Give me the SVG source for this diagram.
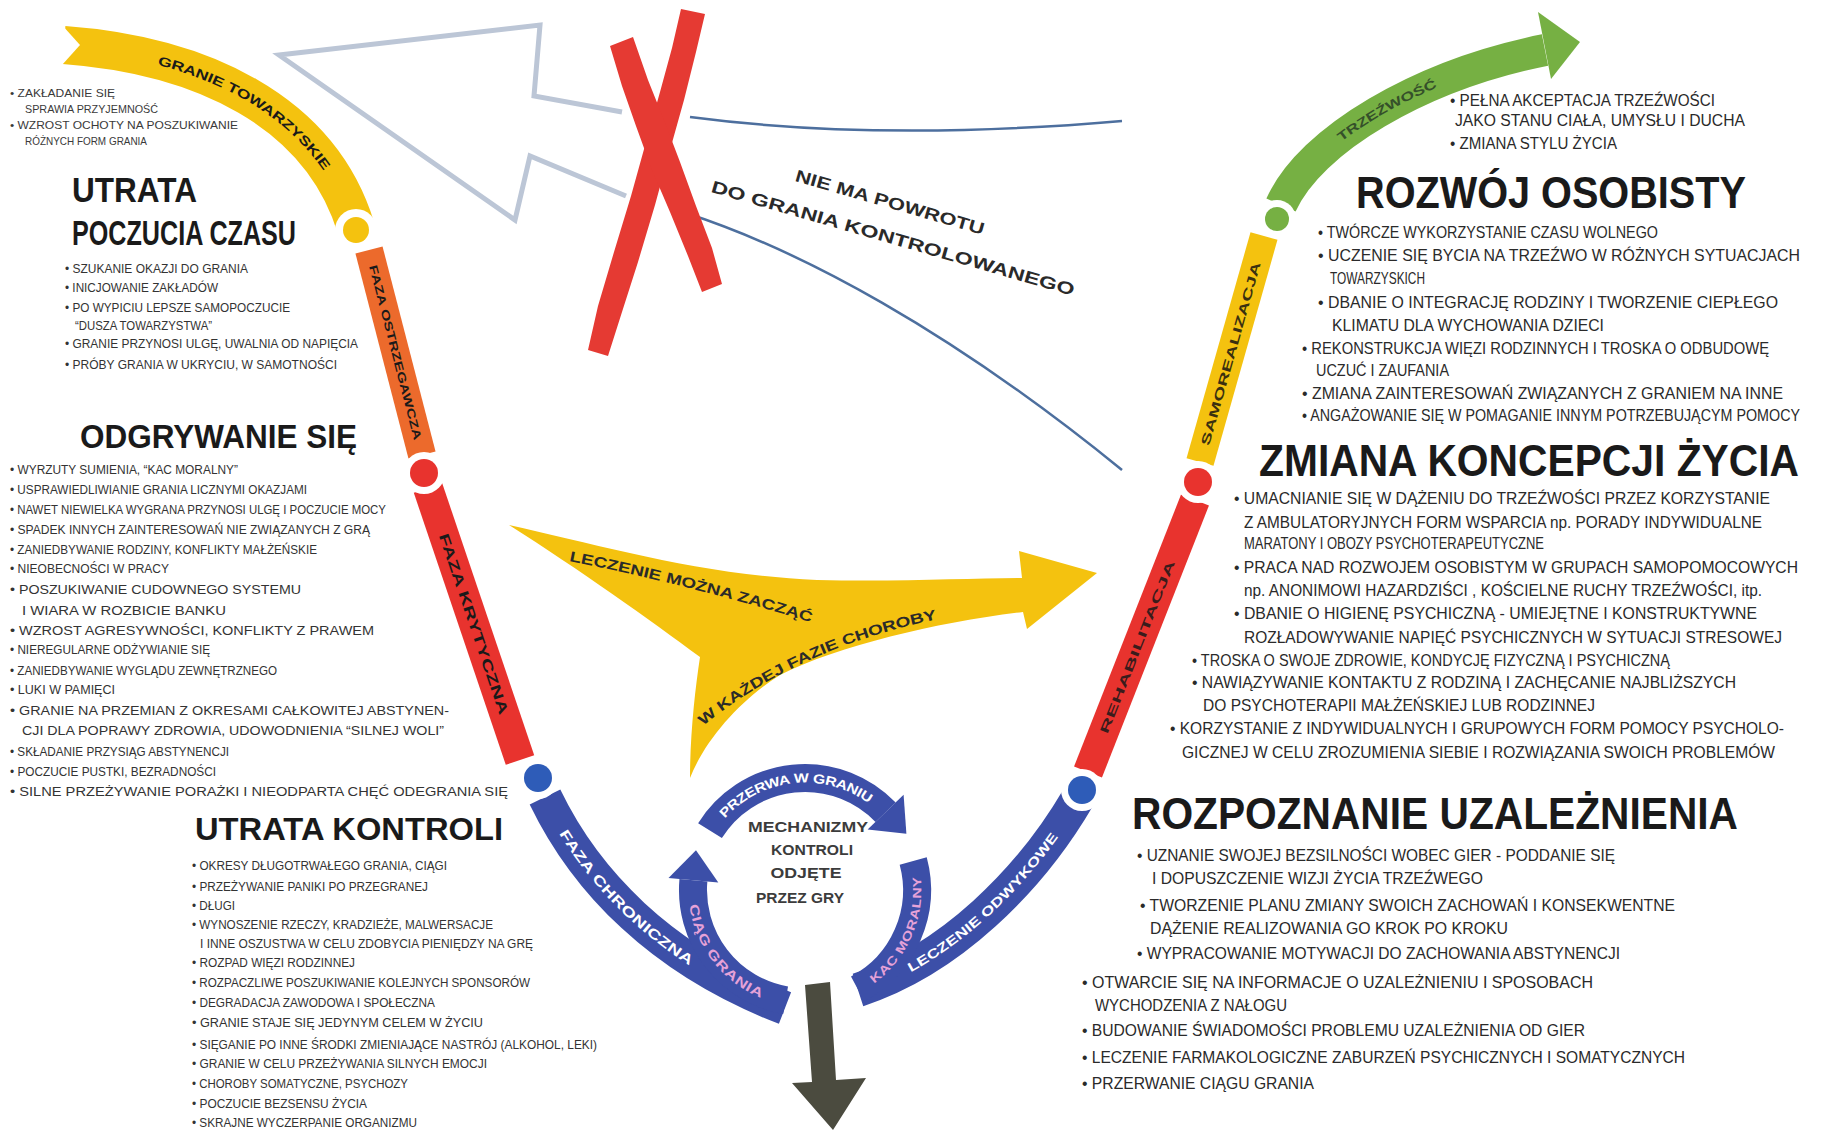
<svg xmlns="http://www.w3.org/2000/svg" width="1831" height="1132" viewBox="0 0 1831 1132">
<defs>
<style>
text{font-family:"Liberation Sans",Arial,sans-serif}
.a{font-size:10.5px;fill:#3a3a3a}
.b{font-size:13px;fill:#333}
.c{font-size:12px;fill:#333}
.e{font-size:16px;fill:#2a2a2a}
.r{font-size:17px;fill:#2a2a2a}
.q{font-size:15px;fill:#2a2a2a}
.h{font-weight:bold;fill:#1a1a1a}
.lab{font-weight:bold}
.band{fill:none;stroke-linecap:butt}
.ring{fill:none;stroke:#3c4fa8;stroke-width:28}
.wc{fill:#fff}
</style>
<path id="p-yel" d="M 64,45 C 200,55 320,110 356,228"/>
<path id="p-ora" d="M 369,250 L 422,455"/>
<path id="p-redL" d="M 428,488 L 520,760"/>
<path id="p-blueL" d="M 545,797 C 585,880 660,960 785,1008"/>
<path id="p-blueR" d="M 858,990 C 950,960 1030,880 1078,798"/>
<path id="p-redR" d="M 1088,772 L 1195,500"/>
<path id="p-yelR" d="M 1200,462 L 1264,236"/>
<path id="p-grn" d="M 1281,205 C 1310,140 1420,75 1545,50"/>
<path id="t-przerwa" d="M 710,830.6 A 112 112 0 0 1 885.6,812.2"/>
<path id="t-ciag" d="M 693.4,880.2 A 112 112 0 0 0 785.6,1000.3"/>
<path id="t-kac" d="M 857.6,988.9 A 112 112 0 0 0 913.2,861"/>
<path id="t-lecz1" d="M 570,556 Q 700,582 820,620"/>
<path id="t-lecz2" d="M 700,722 Q 800,640 948,612"/>
</defs>
<rect width="1831" height="1132" fill="#fff"/>

<g id="connectors">
  <path id="no-return-arrow" d="M 622,112 L 534,96 L 540,25 L 279,55 L 515,220 L 530,156 L 626,196" fill="none" stroke="#bcc6d6" stroke-width="5" stroke-linejoin="miter"/>
  <path d="M 690,117 Q 880,142 1122,121" fill="none" stroke="#4d6f9e" stroke-width="2.5"/>
  <path d="M 686,213 C 800,250 950,330 1122,470" fill="none" stroke="#4d6f9e" stroke-width="2.5"/>
  <g id="red-x" fill="#e53a33">
    <polygon points="681,9 705,14 696,52 684,100 670,150 655,205 638,262 622,312 608,356 588,350 598,306 614,252 631,196 646,142 660,92 672,48"/>
    <polygon points="610,46 633,37 648,80 664,120 680,162 696,206 712,248 722,284 702,292 688,256 670,212 652,170 636,126 622,86"/>
  </g>
  <polygon id="down-arrow" points="805,985 830,982 836,1080 866,1078 833,1130 792,1083 812,1082" fill="#4b4b3f"/>
</g>

<g id="treatment-arrow">
  <path d="M 509,525 C 600,545 700,575 817,580 C 900,582 970,578 1022,578 L 1019,551 L 1097,573 L 1027,629 L 1023,612 C 940,622 840,645 780,675 C 740,700 705,740 690,778 C 690,735 695,690 700,657 C 650,620 580,570 509,525 Z" fill="#f4c20f"/>
  <text class="lab" font-size="14.5" fill="#2a2a2a" dy="5"><textPath href="#t-lecz1" textLength="250" lengthAdjust="spacingAndGlyphs">LECZENIE MOŻNA ZACZĄĆ</textPath></text>
  <text class="lab" font-size="14.5" fill="#2a2a2a" dy="5"><textPath href="#t-lecz2" textLength="262" lengthAdjust="spacingAndGlyphs">W KAŻDEJ FAZIE CHOROBY</textPath></text>
</g>

<g id="no-return-label" class="lab" font-size="17" fill="#2a2a2a" text-anchor="middle">
  <text transform="translate(890,202) rotate(16)" y="6" textLength="196" lengthAdjust="spacingAndGlyphs">NIE MA POWROTU</text>
  <text transform="translate(893,238) rotate(16)" y="6" textLength="377" lengthAdjust="spacingAndGlyphs">DO GRANIA KONTROLOWANEGO</text>
</g>

<g id="left-arm">
  <use href="#p-yel" class="band" stroke="#f4c20f" stroke-width="38"/>
  <polygon points="62,25 62,65 80,45" fill="#fff"/>
  <use href="#p-ora" class="band" stroke="#ec6a2c" stroke-width="28"/>
  <use href="#p-redL" class="band" stroke="#e8332e" stroke-width="30"/>
  <use href="#p-blueL" class="band" stroke="#3c4fa8" stroke-width="34"/>
</g>

<g id="right-arm">
  <use href="#p-blueR" class="band" stroke="#3c4fa8" stroke-width="34"/>
  <use href="#p-redR" class="band" stroke="#e8332e" stroke-width="30"/>
  <use href="#p-yelR" class="band" stroke="#f4c20f" stroke-width="28"/>
  <use href="#p-grn" class="band" stroke="#76b043" stroke-width="32"/>
  <polygon points="1538,12 1580,42 1551,79" fill="#76b043"/>
</g>

<g id="dots">
  <circle class="wc" cx="356" cy="230" r="21"/><circle cx="356" cy="230" r="13" fill="#f4c20f"/>
  <circle class="wc" cx="424" cy="473" r="21"/><circle cx="424" cy="473" r="14" fill="#e8332e"/>
  <circle class="wc" cx="538" cy="778" r="21"/><circle cx="538" cy="778" r="14" fill="#2e5cb8"/>
  <circle class="wc" cx="1082" cy="790" r="21"/><circle cx="1082" cy="790" r="14" fill="#2e5cb8"/>
  <circle class="wc" cx="1198" cy="482" r="21"/><circle cx="1198" cy="482" r="14" fill="#e8332e"/>
  <circle class="wc" cx="1277" cy="219" r="19"/><circle cx="1277" cy="219" r="12" fill="#76b043"/>
</g>

<g id="cycle">
  <path class="ring" d="M 785.6,1000.3 A 112 112 0 0 1 693.4,880.2"/>
  <polygon points="668.5,878 718.3,882.4 696,850.3" fill="#3c4fa8"/>
  <path class="ring" d="M 710,830.6 A 112 112 0 0 1 885.6,812.2"/>
  <polygon points="903.6,794.8 867.6,829.6 906.4,833.8" fill="#3c4fa8"/>
  <path class="ring" d="M 913.2,861 A 112 112 0 0 1 857.6,988.9"/>
  <text class="lab" font-size="13" fill="#fff" dy="4.6" text-anchor="middle"><textPath href="#t-przerwa" startOffset="50%" textLength="165" lengthAdjust="spacingAndGlyphs">PRZERWA W GRANIU</textPath></text>
  <text class="lab" font-size="13" fill="#e6a2d8" dy="4.6" text-anchor="middle"><textPath href="#t-ciag" startOffset="50%" textLength="118" lengthAdjust="spacingAndGlyphs">CIĄG GRANIA</textPath></text>
  <text class="lab" font-size="12" fill="#e6a2d8" dy="4.3" text-anchor="middle"><textPath href="#t-kac" startOffset="50%" textLength="118" lengthAdjust="spacingAndGlyphs">KAC MORALNY</textPath></text>
  <g class="lab" font-size="14" fill="#3c3c3c" text-anchor="middle">
    <text x="808" y="832" textLength="120" lengthAdjust="spacingAndGlyphs">MECHANIZMY</text>
    <text x="812" y="855" textLength="82" lengthAdjust="spacingAndGlyphs">KONTROLI</text>
    <text x="806" y="878" textLength="71" lengthAdjust="spacingAndGlyphs">ODJĘTE</text>
    <text x="800" y="903" textLength="88" lengthAdjust="spacingAndGlyphs">PRZEZ GRY</text>
  </g>
</g>

<g id="band-labels" class="lab" text-anchor="middle">
  <text font-size="13" fill="#1a1a1a" dy="4.6"><textPath href="#p-yel" startOffset="54%" textLength="205" lengthAdjust="spacingAndGlyphs">GRANIE TOWARZYSKIE</textPath></text>
  <text font-size="11.5" fill="#1a1a1a" dy="4"><textPath href="#p-ora" startOffset="50%" textLength="180" lengthAdjust="spacingAndGlyphs">FAZA OSTRZEGAWCZA</textPath></text>
  <text font-size="14" fill="#1a1a1a" dy="5"><textPath href="#p-redL" startOffset="50%" textLength="190" lengthAdjust="spacingAndGlyphs">FAZA KRYTYCZNA</textPath></text>
  <text font-size="14" fill="#fff" dy="5"><textPath href="#p-blueL" startOffset="40%" textLength="185" lengthAdjust="spacingAndGlyphs">FAZA CHRONICZNA</textPath></text>
  <text font-size="13" fill="#fff" dy="4.6"><textPath href="#p-blueR" startOffset="52%" textLength="200" lengthAdjust="spacingAndGlyphs">LECZENIE ODWYKOWE</textPath></text>
  <text font-size="12" fill="#3a1c1c" dy="4.3"><textPath href="#p-redR" startOffset="46%" textLength="185" lengthAdjust="spacingAndGlyphs">REHABILITACJA</textPath></text>
  <text font-size="12.5" fill="#3a3010" dy="4.4"><textPath href="#p-yelR" startOffset="48%" textLength="190" lengthAdjust="spacingAndGlyphs">SAMOREALIZACJA</textPath></text>
  <text font-size="12.5" fill="#35502a" dy="4.4"><textPath href="#p-grn" startOffset="46%" textLength="112" lengthAdjust="spacingAndGlyphs">TRZEŹWOŚĆ</textPath></text>
</g>

<g id="social-gambling-notes" class="a">
  <text x="10" y="97" textLength="105" lengthAdjust="spacingAndGlyphs">• ZAKŁADANIE SIĘ</text>
  <text x="25" y="113" textLength="133" lengthAdjust="spacingAndGlyphs">SPRAWIA PRZYJEMNOŚĆ</text>
  <text x="10" y="129" textLength="228" lengthAdjust="spacingAndGlyphs">• WZROST OCHOTY NA POSZUKIWANIE</text>
  <text x="25" y="145" textLength="122" lengthAdjust="spacingAndGlyphs">RÓŻNYCH FORM GRANIA</text>
</g>

<g id="utrata-poczucia-czasu">
  <text class="h" font-size="35" x="72" y="202" textLength="125" lengthAdjust="spacingAndGlyphs">UTRATA</text>
  <text class="h" font-size="35" x="72" y="245" textLength="224" lengthAdjust="spacingAndGlyphs">POCZUCIA CZASU</text>
  <g class="b">
    <text x="65" y="273" textLength="183" lengthAdjust="spacingAndGlyphs">• SZUKANIE OKAZJI DO GRANIA</text>
    <text x="65" y="292" textLength="153" lengthAdjust="spacingAndGlyphs">• INICJOWANIE ZAKŁADÓW</text>
    <text x="65" y="312" textLength="225" lengthAdjust="spacingAndGlyphs">• PO WYPICIU LEPSZE SAMOPOCZUCIE</text>
    <text x="75" y="330" textLength="137" lengthAdjust="spacingAndGlyphs">“DUSZA TOWARZYSTWA”</text>
    <text x="65" y="348" textLength="293" lengthAdjust="spacingAndGlyphs">• GRANIE PRZYNOSI ULGĘ, UWALNIA OD NAPIĘCIA</text>
    <text x="65" y="369" textLength="272" lengthAdjust="spacingAndGlyphs">• PRÓBY GRANIA W UKRYCIU, W SAMOTNOŚCI</text>
  </g>
</g>

<g id="odgrywanie-sie">
  <text class="h" font-size="33" x="80" y="448" textLength="277" lengthAdjust="spacingAndGlyphs">ODGRYWANIE SIĘ</text>
  <g class="c">
    <text x="10" y="474" textLength="228" lengthAdjust="spacingAndGlyphs">• WYRZUTY SUMIENIA, “KAC MORALNY”</text>
    <text x="10" y="494" textLength="297" lengthAdjust="spacingAndGlyphs">• USPRAWIEDLIWIANIE GRANIA LICZNYMI OKAZJAMI</text>
    <text x="10" y="514" textLength="376" lengthAdjust="spacingAndGlyphs">• NAWET NIEWIELKA WYGRANA PRZYNOSI ULGĘ I POCZUCIE MOCY</text>
    <text x="10" y="534" textLength="360" lengthAdjust="spacingAndGlyphs">• SPADEK INNYCH ZAINTERESOWAŃ NIE ZWIĄZANYCH Z GRĄ</text>
    <text x="10" y="554" textLength="307" lengthAdjust="spacingAndGlyphs">• ZANIEDBYWANIE RODZINY, KONFLIKTY MAŁŻEŃSKIE</text>
    <text x="10" y="573" textLength="159" lengthAdjust="spacingAndGlyphs">• NIEOBECNOŚCI W PRACY</text>
    <text x="10" y="594" textLength="291" lengthAdjust="spacingAndGlyphs">• POSZUKIWANIE CUDOWNEGO SYSTEMU</text>
    <text x="22" y="615" textLength="204" lengthAdjust="spacingAndGlyphs">I WIARA W ROZBICIE BANKU</text>
    <text x="10" y="635" textLength="364" lengthAdjust="spacingAndGlyphs">• WZROST AGRESYWNOŚCI, KONFLIKTY Z PRAWEM</text>
    <text x="10" y="654" textLength="200" lengthAdjust="spacingAndGlyphs">• NIEREGULARNE ODŻYWIANIE SIĘ</text>
    <text x="10" y="675" textLength="267" lengthAdjust="spacingAndGlyphs">• ZANIEDBYWANIE WYGLĄDU ZEWNĘTRZNEGO</text>
    <text x="10" y="694" textLength="105" lengthAdjust="spacingAndGlyphs">• LUKI W PAMIĘCI</text>
    <text x="10" y="715" textLength="439" lengthAdjust="spacingAndGlyphs">• GRANIE NA PRZEMIAN Z OKRESAMI CAŁKOWITEJ ABSTYNEN-</text>
    <text x="22" y="735" textLength="422" lengthAdjust="spacingAndGlyphs">CJI DLA POPRAWY ZDROWIA, UDOWODNIENIA “SILNEJ WOLI”</text>
    <text x="10" y="756" textLength="219" lengthAdjust="spacingAndGlyphs">• SKŁADANIE PRZYSIĄG ABSTYNENCJI</text>
    <text x="10" y="776" textLength="206" lengthAdjust="spacingAndGlyphs">• POCZUCIE PUSTKI, BEZRADNOŚCI</text>
    <text x="10" y="796" textLength="498" lengthAdjust="spacingAndGlyphs">• SILNE PRZEŻYWANIE PORAŻKI I NIEODPARTA CHĘĆ ODEGRANIA SIĘ</text>
  </g>
</g>

<g id="utrata-kontroli">
  <text class="h" font-size="32" x="195" y="840" textLength="308" lengthAdjust="spacingAndGlyphs">UTRATA KONTROLI</text>
  <g class="c">
    <text x="192" y="870" textLength="255" lengthAdjust="spacingAndGlyphs">• OKRESY DŁUGOTRWAŁEGO GRANIA, CIĄGI</text>
    <text x="192" y="891" textLength="236" lengthAdjust="spacingAndGlyphs">• PRZEŻYWANIE PANIKI PO PRZEGRANEJ</text>
    <text x="192" y="910" textLength="43" lengthAdjust="spacingAndGlyphs">• DŁUGI</text>
    <text x="192" y="929" textLength="301" lengthAdjust="spacingAndGlyphs">• WYNOSZENIE RZECZY, KRADZIEŻE, MALWERSACJE</text>
    <text x="200" y="948" textLength="333" lengthAdjust="spacingAndGlyphs">I INNE OSZUSTWA W CELU ZDOBYCIA PIENIĘDZY NA GRĘ</text>
    <text x="192" y="967" textLength="163" lengthAdjust="spacingAndGlyphs">• ROZPAD WIĘZI RODZINNEJ</text>
    <text x="192" y="987" textLength="338" lengthAdjust="spacingAndGlyphs">• ROZPACZLIWE POSZUKIWANIE KOLEJNYCH SPONSORÓW</text>
    <text x="192" y="1007" textLength="243" lengthAdjust="spacingAndGlyphs">• DEGRADACJA ZAWODOWA I SPOŁECZNA</text>
    <text x="192" y="1027" textLength="291" lengthAdjust="spacingAndGlyphs">• GRANIE STAJE SIĘ JEDYNYM CELEM W ŻYCIU</text>
    <text x="192" y="1049" textLength="405" lengthAdjust="spacingAndGlyphs">• SIĘGANIE PO INNE ŚRODKI ZMIENIAJĄCE NASTRÓJ (ALKOHOL, LEKI)</text>
    <text x="192" y="1068" textLength="295" lengthAdjust="spacingAndGlyphs">• GRANIE W CELU PRZEŻYWANIA SILNYCH EMOCJI</text>
    <text x="192" y="1088" textLength="216" lengthAdjust="spacingAndGlyphs">• CHOROBY SOMATYCZNE, PSYCHOZY</text>
    <text x="192" y="1108" textLength="175" lengthAdjust="spacingAndGlyphs">• POCZUCIE BEZSENSU ŻYCIA</text>
    <text x="192" y="1127" textLength="225" lengthAdjust="spacingAndGlyphs">• SKRAJNE WYCZERPANIE ORGANIZMU</text>
  </g>
</g>

<g id="trzezwosc-notes" class="e">
  <text x="1450" y="106" textLength="265" lengthAdjust="spacingAndGlyphs">• PEŁNA  AKCEPTACJA TRZEŹWOŚCI</text>
  <text x="1455" y="126" textLength="290" lengthAdjust="spacingAndGlyphs">JAKO STANU CIAŁA, UMYSŁU I DUCHA</text>
  <text x="1450" y="149" textLength="167" lengthAdjust="spacingAndGlyphs">• ZMIANA STYLU ŻYCIA</text>
</g>

<g id="rozwoj-osobisty">
  <text class="h" font-size="36" transform="translate(1356,208) scale(1,1.22)" textLength="390" lengthAdjust="spacingAndGlyphs">ROZWÓJ OSOBISTY</text>
  <g class="q">
    <text transform="translate(1318,238) scale(1,1.13)" textLength="340" lengthAdjust="spacingAndGlyphs">• TWÓRCZE WYKORZYSTANIE CZASU WOLNEGO</text>
    <text transform="translate(1318,261) scale(1,1.13)" textLength="482" lengthAdjust="spacingAndGlyphs">• UCZENIE SIĘ BYCIA NA TRZEŹWO W RÓŻNYCH SYTUACJACH</text>
    <text transform="translate(1330,284) scale(1,1.13)" textLength="95" lengthAdjust="spacingAndGlyphs">TOWARZYSKICH</text>
    <text transform="translate(1318,308) scale(1,1.13)" textLength="460" lengthAdjust="spacingAndGlyphs">• DBANIE O INTEGRACJĘ RODZINY I TWORZENIE CIEPŁEGO</text>
    <text transform="translate(1332,331) scale(1,1.13)" textLength="272" lengthAdjust="spacingAndGlyphs">KLIMATU DLA WYCHOWANIA DZIECI</text>
    <text transform="translate(1302,354) scale(1,1.13)" textLength="467" lengthAdjust="spacingAndGlyphs">• REKONSTRUKCJA WIĘZI RODZINNYCH I TROSKA O ODBUDOWĘ</text>
    <text transform="translate(1316,376) scale(1,1.13)" textLength="133" lengthAdjust="spacingAndGlyphs">UCZUĆ I ZAUFANIA</text>
    <text transform="translate(1302,399) scale(1,1.13)" textLength="481" lengthAdjust="spacingAndGlyphs">• ZMIANA ZAINTERESOWAŃ ZWIĄZANYCH Z GRANIEM NA INNE</text>
    <text transform="translate(1302,421) scale(1,1.13)" textLength="498" lengthAdjust="spacingAndGlyphs">• ANGAŻOWANIE SIĘ W POMAGANIE INNYM POTRZEBUJĄCYM POMOCY</text>
  </g>
</g>

<g id="zmiana-koncepcji-zycia">
  <text class="h" font-size="36" transform="translate(1259,476) scale(1,1.22)" textLength="540" lengthAdjust="spacingAndGlyphs">ZMIANA KONCEPCJI ŻYCIA</text>
  <g class="q">
    <text transform="translate(1234,504) scale(1,1.13)" textLength="536" lengthAdjust="spacingAndGlyphs">• UMACNIANIE SIĘ W DĄŻENIU DO TRZEŹWOŚCI PRZEZ KORZYSTANIE</text>
    <text transform="translate(1244,528) scale(1,1.13)" textLength="518" lengthAdjust="spacingAndGlyphs">Z AMBULATORYJNYCH FORM WSPARCIA np. PORADY INDYWIDUALNE</text>
    <text transform="translate(1244,549) scale(1,1.13)" textLength="300" lengthAdjust="spacingAndGlyphs">MARATONY I OBOZY PSYCHOTERAPEUTYCZNE</text>
    <text transform="translate(1234,573) scale(1,1.13)" textLength="564" lengthAdjust="spacingAndGlyphs">• PRACA NAD ROZWOJEM OSOBISTYM W GRUPACH SAMOPOMOCOWYCH</text>
    <text transform="translate(1244,596) scale(1,1.13)" textLength="518" lengthAdjust="spacingAndGlyphs">np. ANONIMOWI HAZARDZIŚCI , KOŚCIELNE RUCHY TRZEŹWOŚCI, itp.</text>
    <text transform="translate(1234,619) scale(1,1.13)" textLength="523" lengthAdjust="spacingAndGlyphs">• DBANIE O HIGIENĘ PSYCHICZNĄ - UMIEJĘTNE I KONSTRUKTYWNE</text>
    <text transform="translate(1244,643) scale(1,1.13)" textLength="538" lengthAdjust="spacingAndGlyphs">ROZŁADOWYWANIE NAPIĘĆ PSYCHICZNYCH W SYTUACJI STRESOWEJ</text>
    <text transform="translate(1192,666) scale(1,1.13)" textLength="478" lengthAdjust="spacingAndGlyphs">• TROSKA O SWOJE ZDROWIE, KONDYCJĘ FIZYCZNĄ I PSYCHICZNĄ</text>
    <text transform="translate(1192,688) scale(1,1.13)" textLength="544" lengthAdjust="spacingAndGlyphs">• NAWIĄZYWANIE KONTAKTU Z RODZINĄ I ZACHĘCANIE NAJBLIŻSZYCH</text>
    <text transform="translate(1203,711) scale(1,1.13)" textLength="392" lengthAdjust="spacingAndGlyphs">DO PSYCHOTERAPII MAŁŻEŃSKIEJ LUB RODZINNEJ</text>
    <text transform="translate(1170,734) scale(1,1.13)" textLength="614" lengthAdjust="spacingAndGlyphs">• KORZYSTANIE Z INDYWIDUALNYCH I GRUPOWYCH FORM POMOCY PSYCHOLO-</text>
    <text transform="translate(1182,758) scale(1,1.13)" textLength="593" lengthAdjust="spacingAndGlyphs">GICZNEJ W CELU ZROZUMIENIA SIEBIE I ROZWIĄZANIA SWOICH PROBLEMÓW</text>
  </g>
</g>

<g id="rozpoznanie-uzaleznienia">
  <text class="h" font-size="36" transform="translate(1132,829) scale(1,1.22)" textLength="606" lengthAdjust="spacingAndGlyphs">ROZPOZNANIE UZALEŻNIENIA</text>
  <g class="r">
    <text x="1137" y="861" textLength="478" lengthAdjust="spacingAndGlyphs">• UZNANIE SWOJEJ BEZSILNOŚCI WOBEC GIER - PODDANIE SIĘ</text>
    <text x="1152" y="884" textLength="331" lengthAdjust="spacingAndGlyphs">I DOPUSZCZENIE WIZJI ŻYCIA TRZEŹWEGO</text>
    <text x="1140" y="911" textLength="535" lengthAdjust="spacingAndGlyphs">• TWORZENIE PLANU ZMIANY SWOICH ZACHOWAŃ I KONSEKWENTNE</text>
    <text x="1150" y="934" textLength="358" lengthAdjust="spacingAndGlyphs">DĄŻENIE REALIZOWANIA GO KROK PO KROKU</text>
    <text x="1137" y="959" textLength="483" lengthAdjust="spacingAndGlyphs">• WYPRACOWANIE MOTYWACJI DO ZACHOWANIA ABSTYNENCJI</text>
    <text x="1082" y="988" textLength="511" lengthAdjust="spacingAndGlyphs">• OTWARCIE SIĘ NA INFORMACJE O UZALEŻNIENIU I SPOSOBACH</text>
    <text x="1095" y="1011" textLength="192" lengthAdjust="spacingAndGlyphs">WYCHODZENIA Z NAŁOGU</text>
    <text x="1082" y="1036" textLength="503" lengthAdjust="spacingAndGlyphs">• BUDOWANIE ŚWIADOMOŚCI PROBLEMU UZALEŻNIENIA OD GIER</text>
    <text x="1082" y="1063" textLength="603" lengthAdjust="spacingAndGlyphs">• LECZENIE FARMAKOLOGICZNE ZABURZEŃ PSYCHICZNYCH I SOMATYCZNYCH</text>
    <text x="1082" y="1089" textLength="232" lengthAdjust="spacingAndGlyphs">• PRZERWANIE CIĄGU GRANIA</text>
  </g>
</g>
</svg>
